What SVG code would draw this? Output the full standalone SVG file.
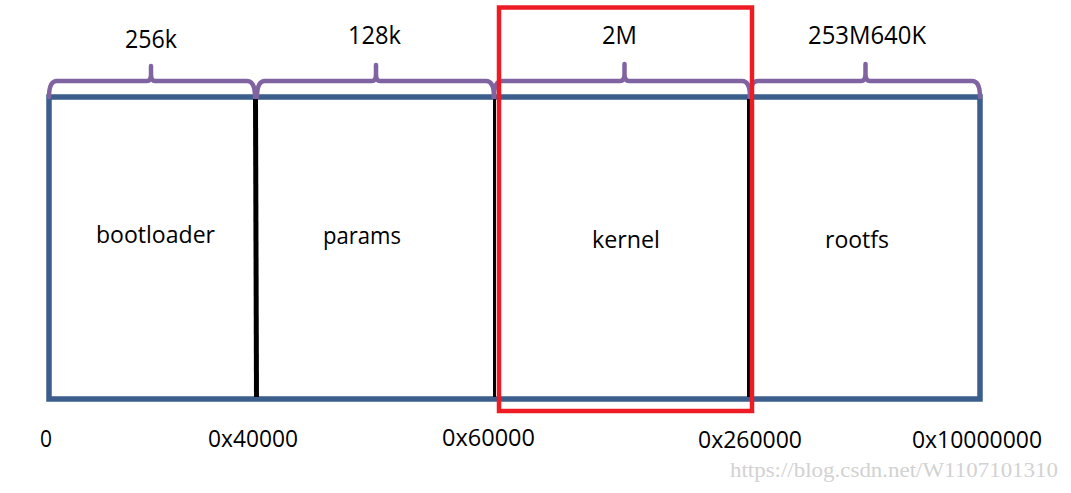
<svg xmlns="http://www.w3.org/2000/svg" width="1071" height="493" viewBox="0 0 1071 493">
  <style>
    .lbl { font-family: "Open Sans", "Liberation Sans", sans-serif; fill: #000; }
    .top { font-size: 25px; text-anchor: start; }
    .box { font-size: 23px; text-anchor: start; }
    .addr { font-size: 23px; text-anchor: start; }
    .brace { fill: none; stroke: #8064A2; stroke-width: 4.5; stroke-linecap: round; stroke-linejoin: round; }
    .div { stroke: #000; }
    .wm { font-family: "Liberation Serif", "DejaVu Serif", serif; font-size: 21px; fill: #D2D2D2; }
  </style>
  <rect width="1071" height="493" fill="#fff"/>

  <g id="memory">
    <rect x="49" y="97" width="931" height="302" fill="#fff" stroke="#3B5E8C" stroke-width="5.5"/>
  </g>

  <g id="connectors">
    <line class="div" x1="255.5" y1="99" x2="256.5" y2="397" stroke-width="5"/>
    <line class="div" x1="494.5" y1="99" x2="494.5" y2="397" stroke-width="3"/>
    <line class="div" x1="748.5" y1="99" x2="748.5" y2="397" stroke-width="3"/>
    <path class="brace" d="M49 97 Q49 81 57 81 H147 Q151 81 151 74 V66 V74 Q151 81 155 81 H247 Q255 81 255 97"/>
    <path class="brace" d="M257 97 Q257 81 265 81 H372 Q376 81 376 74 V65 V74 Q376 81 380 81 H486 Q494 81 494 97"/>
    <path class="brace" d="M494 97 Q494 81 502 81 H620 Q624.5 81 624.5 74 V64 V74 Q624.5 81 629 81 H742 Q750 81 750 97"/>
    <path class="brace" d="M750 97 Q750 81 758 81 H861 Q865.5 81 865.5 74 V64 V74 Q865.5 81 870 81 H972 Q980 81 980 97"/>
  </g>

  <g id="bootloader">
    <text class="lbl top" x="125" y="48" textLength="52" lengthAdjust="spacingAndGlyphs">256k</text>
    <text class="lbl box" x="96" y="243" textLength="119" lengthAdjust="spacingAndGlyphs">bootloader</text>
  </g>
  <g id="params">
    <text class="lbl top" x="348" y="44" textLength="53" lengthAdjust="spacingAndGlyphs">128k</text>
    <text class="lbl box" x="323" y="244" textLength="78" lengthAdjust="spacingAndGlyphs">params</text>
  </g>
  <g id="kernel">
    <text class="lbl top" x="602" y="44" textLength="35" lengthAdjust="spacingAndGlyphs">2M</text>
    <text class="lbl box" x="592" y="248" textLength="68" lengthAdjust="spacingAndGlyphs">kernel</text>
  </g>
  <g id="rootfs">
    <text class="lbl top" x="808" y="44" textLength="118" lengthAdjust="spacingAndGlyphs">253M640K</text>
    <text class="lbl box" x="825" y="248" textLength="64" lengthAdjust="spacingAndGlyphs">rootfs</text>
  </g>

  <g id="highlight">
    <rect x="499" y="7.5" width="253" height="403.5" fill="none" stroke="#ED1C24" stroke-width="4.5"/>
  </g>

  <g id="addresses">
    <text class="lbl addr" x="40" y="447" textLength="12" lengthAdjust="spacingAndGlyphs">0</text>
    <text class="lbl addr" x="208" y="447" textLength="90" lengthAdjust="spacingAndGlyphs">0x40000</text>
    <text class="lbl addr" x="442" y="446" textLength="93" lengthAdjust="spacingAndGlyphs">0x60000</text>
    <text class="lbl addr" x="698" y="448" textLength="104" lengthAdjust="spacingAndGlyphs">0x260000</text>
    <text class="lbl addr" x="912" y="448" textLength="130" lengthAdjust="spacingAndGlyphs">0x10000000</text>
  </g>

  <text class="wm" x="730" y="477" textLength="328" lengthAdjust="spacingAndGlyphs">https://blog.csdn.net/W1107101310</text>
</svg>
